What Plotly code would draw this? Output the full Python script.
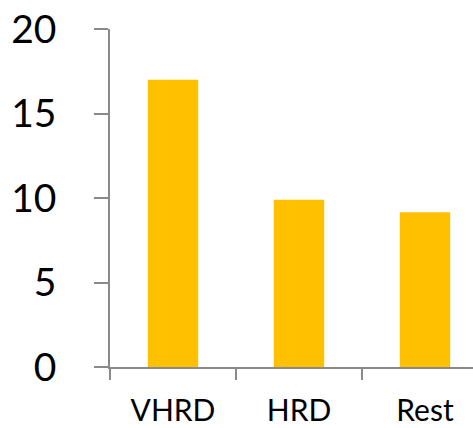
import plotly.graph_objects as go

categories = ["VHRD", "HRD", "Rest"]
values = [17.0, 9.9, 9.15]
y_ticks = [0, 5, 10, 15, 20]

BAR_COLOR = "#FFC000"
AXIS_COLOR = "#898989"
FONT = "Lato"

fig = go.Figure(
    go.Bar(
        x=categories,
        y=values,
        width=0.4,
        marker=dict(color=BAR_COLOR, line=dict(width=0)),
    )
)

fig.update_layout(
    width=473,
    height=428,
    margin=dict(l=110, r=0, t=29, b=61),
    paper_bgcolor="white",
    plot_bgcolor="white",
    showlegend=False,
    font=dict(family=FONT, color="black"),
)

fig.update_xaxes(
    type="category",
    range=[-0.5, 2.381],
    tickson="boundaries",
    ticks="outside",
    ticklen=11,
    tickwidth=1.5,
    tickcolor=AXIS_COLOR,
    showline=True,
    linecolor=AXIS_COLOR,
    linewidth=1.5,
    showgrid=False,
    zeroline=False,
    tickfont=dict(size=30, family=FONT, color="black"),
    ticklabelstandoff=16,
    automargin=False,
)

fig.update_yaxes(
    range=[0, 20],
    tickvals=y_ticks,
    ticks="outside",
    ticklen=14,
    tickwidth=1.5,
    tickcolor=AXIS_COLOR,
    showline=True,
    linecolor=AXIS_COLOR,
    linewidth=1.5,
    showgrid=False,
    zeroline=False,
    tickfont=dict(size=39, family=FONT, color="black"),
    ticklabelstandoff=30,
    automargin=False,
)

fig.write_html("out.html")
